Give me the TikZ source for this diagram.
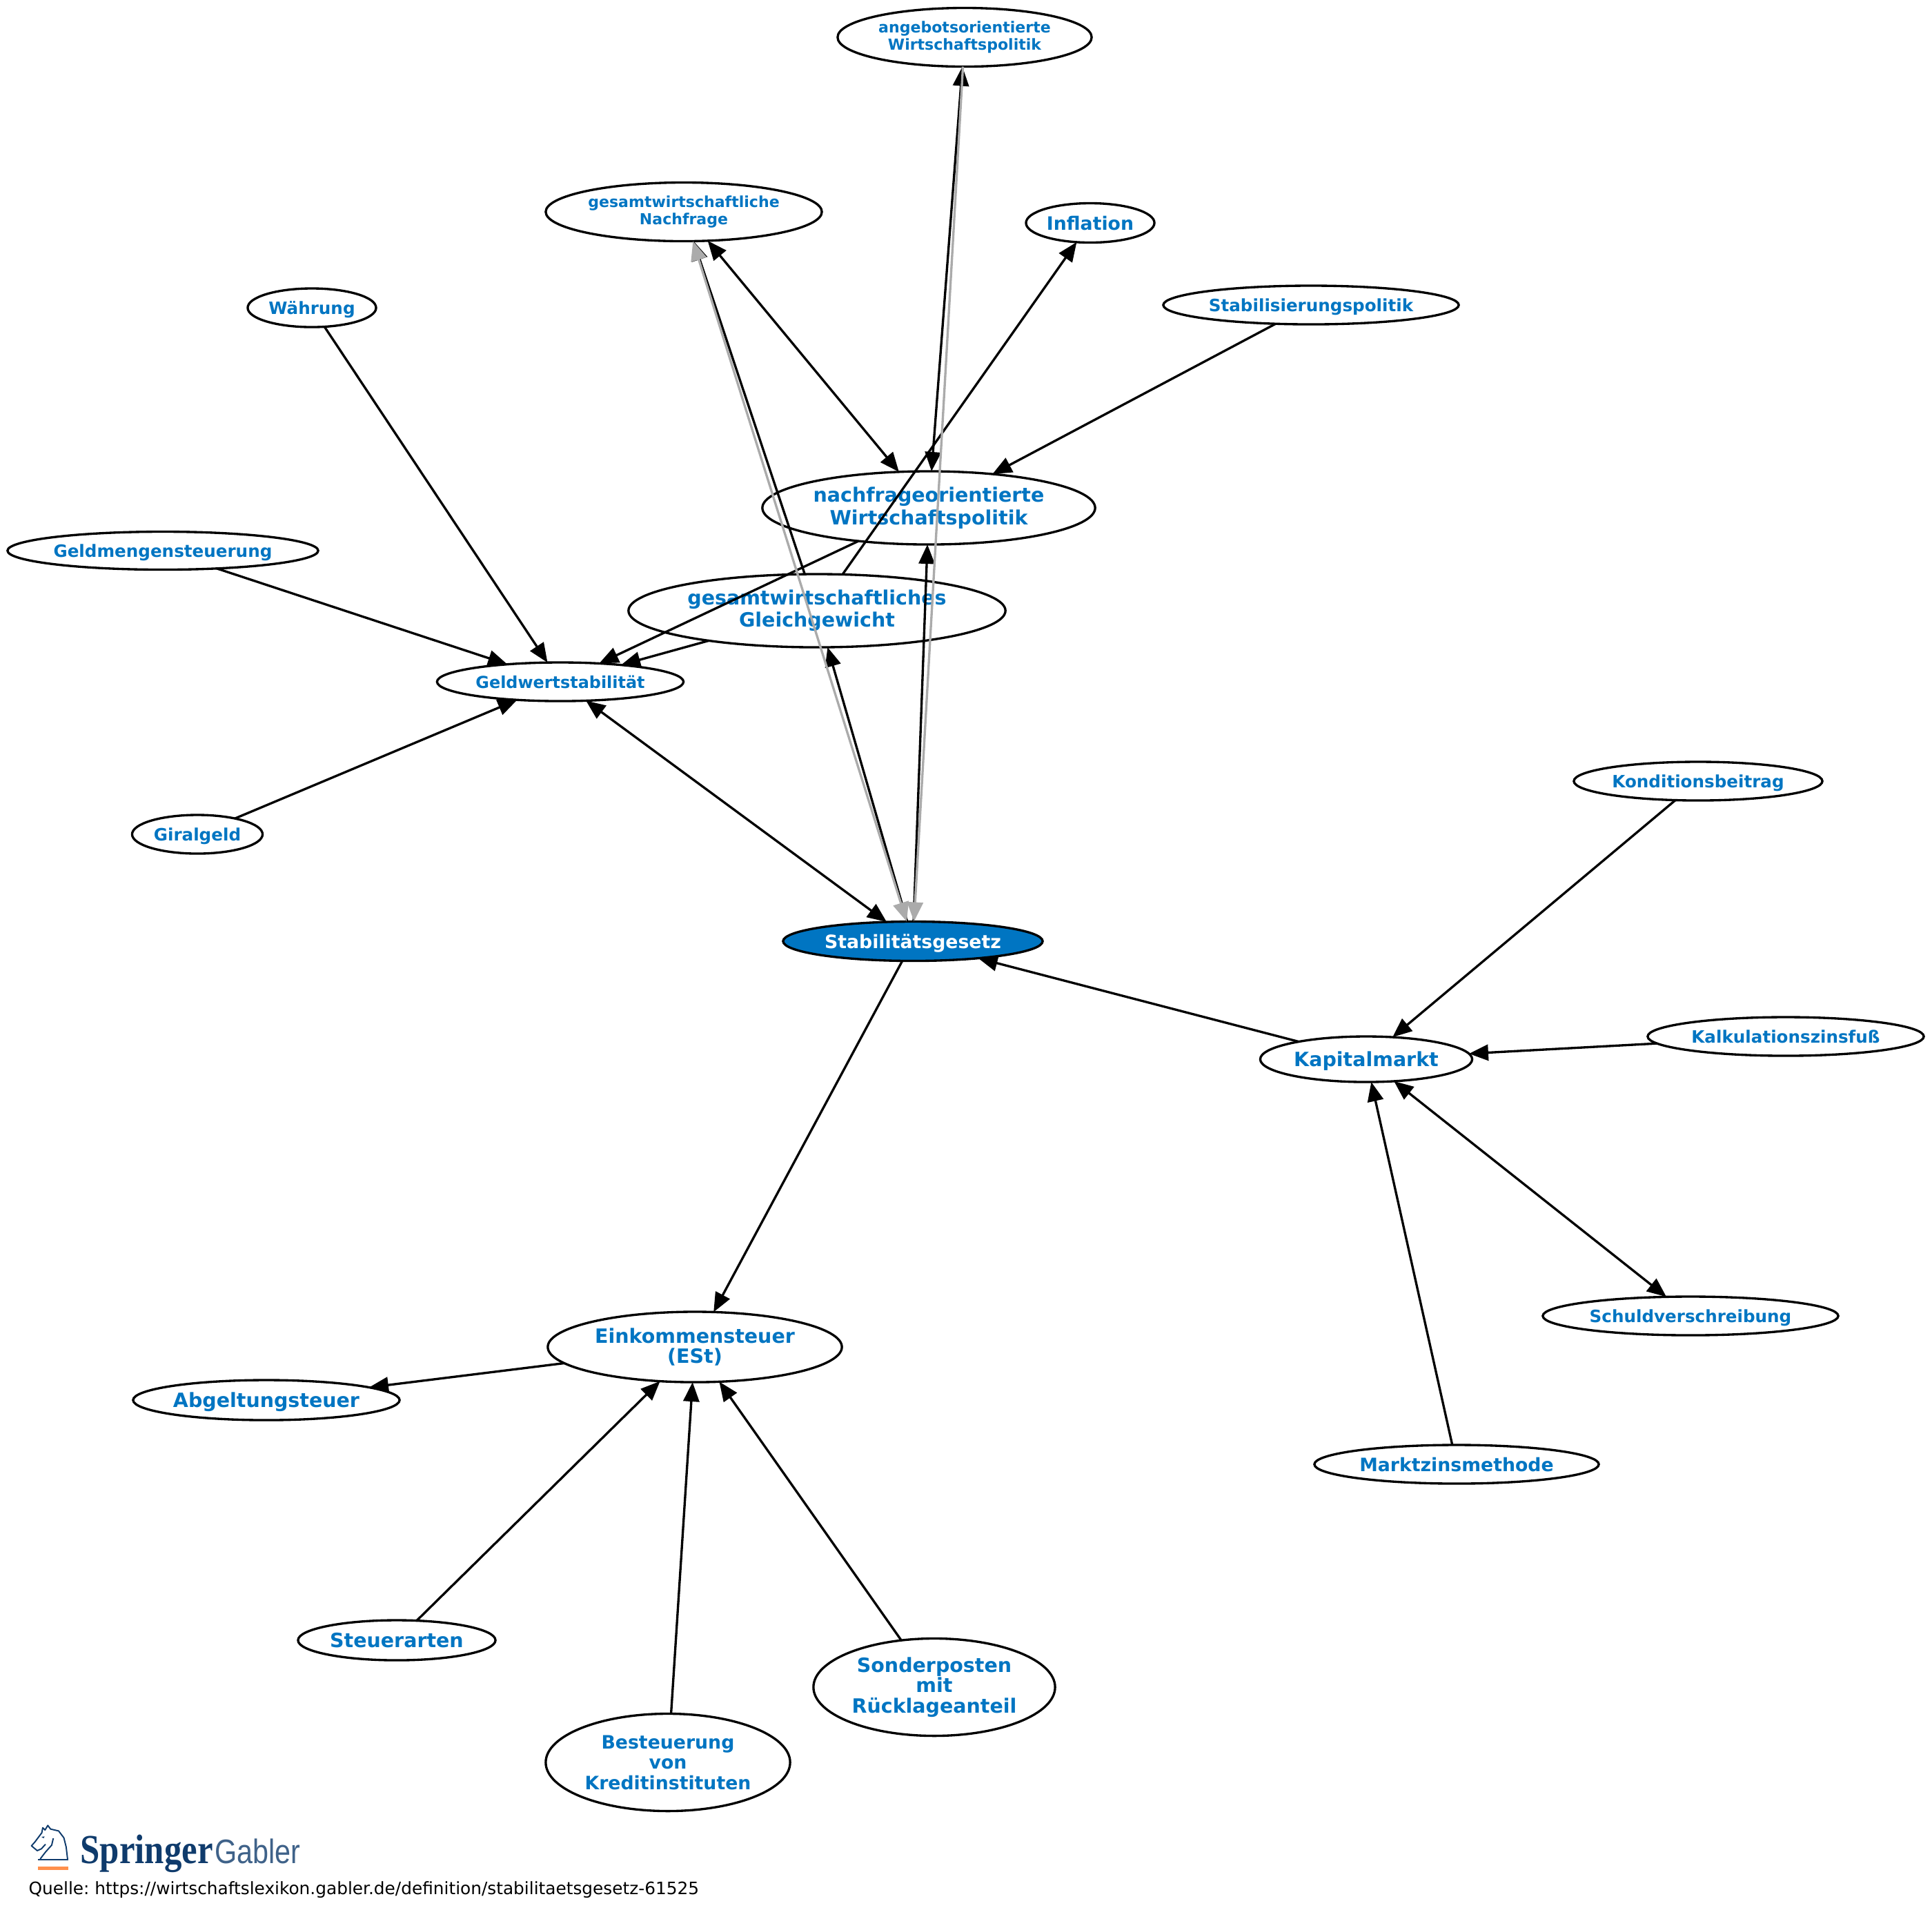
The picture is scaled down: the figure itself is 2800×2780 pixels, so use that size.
\documentclass[tikz,border=0pt]{standalone}
\usepackage{fontspec}
\setmainfont{DejaVu Sans}
\usetikzlibrary{arrows.meta,shapes.geometric}
\definecolor{gablerblue}{HTML}{0075C2}
\definecolor{logoblue}{HTML}{0F3B6C}
\definecolor{edgegray}{HTML}{ABABAB}
\tikzset{
  topic/.style={ellipse,draw,line width=.95pt,outer sep=0pt,fill=white,text=gablerblue,inner sep=0pt,align=center,font=\bfseries\fontsize{7}{8}\selectfont},
  smalltopic/.style={topic,font=\bfseries\fontsize{6.27}{6.9}\selectfont},
  midtopic/.style={topic,font=\bfseries\fontsize{7.6}{8.4}\selectfont},
  bigtopic/.style={topic,font=\bfseries\fontsize{8.1}{9.2}\selectfont},
  tighttopic/.style={topic,font=\bfseries\fontsize{8.1}{8.4}\selectfont},
  main/.style={topic,fill=gablerblue,text=white,font=\bfseries\fontsize{7.6}{8.4}\selectfont},
  flat/.style={text depth=0pt},
  conn/.style={line width=.95pt,-{Triangle[length=.28cm,width=.23cm]}},
  both/.style={line width=.95pt,{Triangle[length=.28cm,width=.23cm]}-{Triangle[length=.28cm,width=.23cm]}},
  grayconn/.style={conn,draw=edgegray},
  grayboth/.style={both,draw=edgegray}
}
\begin{document}
\begin{tikzpicture}[x=.01cm,y=-.01cm]
  \useasboundingbox (0,0) rectangle (2800,2780);

  \node[smalltopic,minimum width=3.68cm,minimum height=.85cm] (angebot) at (1398,54) {angebotsorientierte\\Wirtschaftspolitik};
  \node[smalltopic,minimum width=4cm,minimum height=.85cm] (nachfrage) at (991,307) {gesamtwirtschaftliche\\Nachfrage};
  \node[midtopic,flat,minimum width=1.86cm,minimum height=.57cm] (inflation) at (1580,323) {Inflation};
  \node[topic,flat,minimum width=4.28cm,minimum height=.56cm] (stabpol) at (1900,442) {Stabilisierungspolitik};
  \node[topic,flat,minimum width=1.86cm,minimum height=.56cm] (waehrung) at (452,446) {Währung};
  \node[bigtopic,minimum width=4.82cm,minimum height=1.06cm] (nfwp) at (1346,736) {nachfrageorientierte\\Wirtschaftspolitik};
  \node[topic,flat,minimum width=4.5cm,minimum height=.55cm] (geldmenge) at (236,798) {Geldmengensteuerung};
  \node[bigtopic,minimum width=5.46cm,minimum height=1.06cm] (gleich) at (1184,885) {gesamtwirtschaftliches\\Gleichgewicht};
  \node[topic,font=\bfseries\fontsize{6.8}{8}\selectfont,minimum width=3.57cm,minimum height=.56cm] (geldwert) at (812,988) {Geldwertstabilität};
  \node[topic,flat,minimum width=1.89cm,minimum height=.56cm] (giral) at (286,1209) {Giralgeld};
  \node[topic,flat,minimum width=3.6cm,minimum height=.56cm] (kond) at (2461,1132) {Konditionsbeitrag};
  \node[main,flat,minimum width=3.76cm,minimum height=.57cm] (stabg) at (1323,1364) {Stabilitätsgesetz};
  \node[topic,flat,minimum width=4cm,minimum height=.56cm] (kalk) at (2588,1502) {Kalkulationszinsfuß};
  \node[bigtopic,flat,minimum width=3.07cm,minimum height=.66cm] (kapital) at (1980,1535) {Kapitalmarkt};
  \node[topic,flat,minimum width=4.28cm,minimum height=.56cm] (schuld) at (2450,1907) {Schuldverschreibung};
  \node[midtopic,minimum width=4.12cm,minimum height=.56cm] (markt) at (2111,2122) {Marktzinsmethode};
  \node[tighttopic,minimum width=4.26cm,minimum height=1.02cm] (est) at (1007,1952) {Einkommensteuer\\(ESt)};
  \node[bigtopic,flat,minimum width=3.86cm,minimum height=.58cm] (abgelt) at (386,2029) {Abgeltungsteuer};
  \node[bigtopic,minimum width=2.86cm,minimum height=.58cm] (steuer) at (575,2377) {Steuerarten};
  \node[tighttopic,minimum width=3.5cm,minimum height=1.41cm] (sonder) at (1354,2445) {Sonderposten\\mit\\Rücklageanteil};
  \node[midtopic,minimum width=3.54cm,minimum height=1.41cm] (besteuer) at (968,2554) {Besteuerung\\von\\Kreditinstituten};

  \foreach \from/\to in {waehrung/geldwert,geldmenge/geldwert,giral/geldwert,gleich/geldwert,nfwp/geldwert,
    gleich/inflation,gleich/nachfrage,stabg/gleich,stabg/nfwp,stabpol/nfwp,stabg/est,kapital/stabg,
    kond/kapital,kalk/kapital,markt/kapital,est/abgelt,steuer/est,besteuer/est,sonder/est}
    \draw[conn] (\from) -- (\to);
  \foreach \from/\to in {geldwert/stabg,nachfrage/nfwp,nfwp/angebot,kapital/schuld}
    \draw[both] (\from) -- (\to);
  \draw[grayboth] (stabg) -- (nachfrage);
  \draw[grayconn] (angebot) -- (stabg);

  % logo
  \begin{scope}[shift={(30,2630)},x=.00333cm,y=-.00333cm,logoblue,line width=.55pt,line join=round]
    \draw (85,192) -- (108,162) -- (135,132) -- (142,102);
    \draw (108,128) -- (90,148) -- (72,156) -- (47,135) -- (62,118) -- (92,78) -- (96,56) -- (106,66) -- (118,46) -- (130,62)
      -- (165,70) -- (188,100) -- (198,140) -- (204,192);
    \draw (75,195) -- (208,195);
    \fill (90,96) -- (104,94) -- (100,102) -- cycle;
    \fill[orange!75!red!70!white] (75,225) rectangle (208,241);
  \end{scope}
  \node[anchor=base west,inner sep=0pt,text=logoblue,font=\fontspec{Liberation Serif}\bfseries\fontsize{17}{17}\selectfont,xscale=.85,transform shape] (springer) at (116,2700) {Springer};
  \node[anchor=base west,inner sep=0pt,text=logoblue!80,font=\fontspec{Liberation Sans}\fontsize{14}{14}\selectfont,xscale=.84,transform shape] (gabler) at (311,2700) {Gabler};
  \node[anchor=base west,inner sep=0pt,font=\frenchspacing\fontsize{7.05}{8}\selectfont] (quelle) at (41,2745) {Quelle: https://wirtschaftslexikon.gabler.de/definition/stabilitaetsgesetz-61525};
\end{tikzpicture}
\end{document}
